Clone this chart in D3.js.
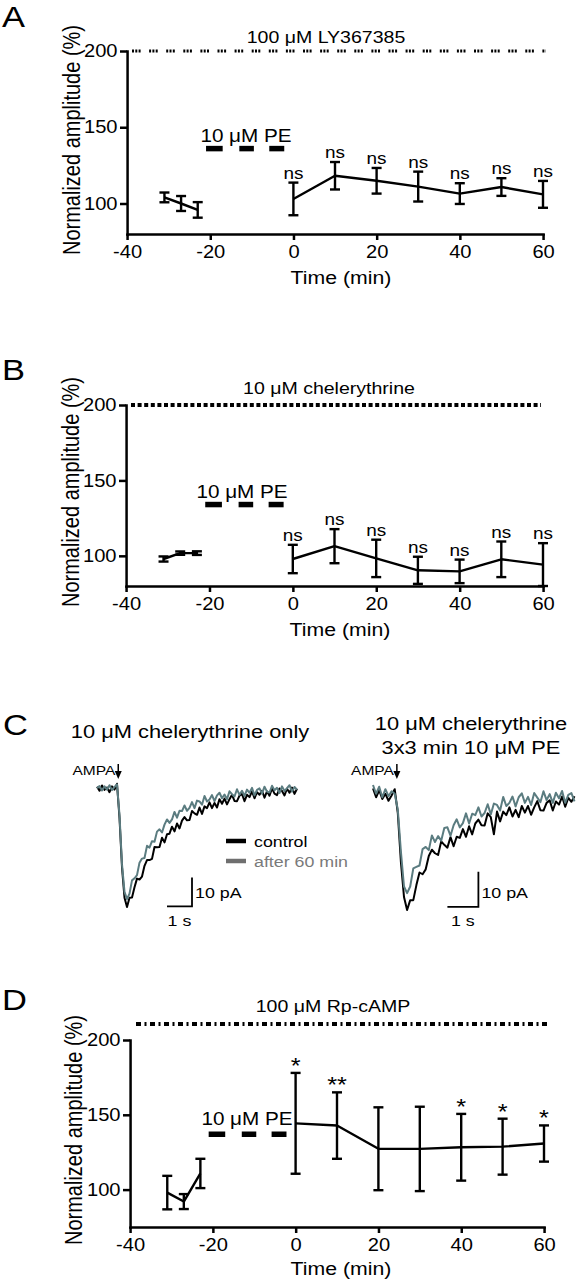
<!DOCTYPE html>
<html><head><meta charset="utf-8">
<script src="https://cdn.jsdelivr.net/npm/d3@7"></script>
<style>body{margin:0;background:#fff} svg{display:block}</style>
</head><body><svg id="fig" width="576" height="1280"></svg>
<script>
// ---------- data ----------
const timePoints = [-31, -27, -23, 0, 10, 20, 30, 40, 50, 60];
const meanA = [104, 100, 95.8, 103, 118.2, 114.9, 111.1, 106.5, 110.8, 106];
const errA  = [3.2, 4.9, 5.1, 10.7, 9, 8.4, 9.8, 6.8, 5.8, 8.8];
const meanB = [97.9, 101.8, 101.8, 97.9, 106.4, 98.3, 90.4, 89.7, 97.7, 94.2];
const errB  = [1.7, 1.1, 1.2, 9.4, 11.3, 12.4, 9, 7.8, 11.8, 14.2];
const meanD = [98, 92, 110.8, 144.3, 142.8, 127.3, 127.2, 128.3, 128.7, 130.8];
const errD  = [11.2, 5, 9.8, 33.7, 22.2, 27.7, 28.2, 22.3, 18.7, 12.1];
const sigA  = ["", "", "", "ns", "ns", "ns", "ns", "ns", "ns", "ns"];
const sigB  = ["", "", "", "ns", "ns", "ns", "ns", "ns", "ns", "ns"];
const sigD  = ["", "", "", "*", "**", "", "", "*", "*", "*"];
const peBars = [[-21, -17], [-13, -9.5], [-5.8, -2.2]];
const xTicks = [-40, -20, 0, 20, 40, 60];
const yTicks = [100, 150, 200];
const drugLabels = ["100 \u03bcM LY367385", "10 \u03bcM chelerythrine", "100 \u03bcM Rp-cAMP"];
const peLabel = "10 \u03bcM PE";

// traces (pA), sampled every 0.1 s
const traceStep = 0.1;
const leftControl = [0.8,-0.6,1.2,-0.3,0.5,-1.1,0.9,-0.2,1.8,
  -10,-27,-37.5,-40.7,
  -37.5,-37.4,-33.9,-30.9,-31.2,-30.2,-26.5,-24.5,-24.5,-24.1,-20.0,-20.1,-20.0,-16.8,-18.4,-15.6,-15.4,-13.0,
  -14.6,-11.9,-13.6,-10.9,-9.7,-10.8,-10.7,-7.6,-8.4,-8.9,-6.4,-8.6,-6.0,-6.6,-4.6,-6.6,-4.8,-6.4,-3.5,-5.1,
  -3.3,-5.3,-3.5,-2.0,-4.1,-4.2,-2.3,-1.7,-4.2,-2.0,-2.8,-0.8,-3.2,-1.1,-2.0,-0.6,-3.0,-0.8,-2.3,0.2,
  -1.6,-2.1,0.2,-0.7,-2.2,0.1,-1.3,0.5,-1.7,0.1];
const leftAfter = [0.3,1.0,-0.5,0.9,-0.2,1.3,-0.4,0.7,1.6,
  -9,-26,-35.5,-38,
  -36.1,-31.5,-30.8,-29.7,-25.4,-24.0,-23.8,-19.6,-20.2,-18.0,-18.2,-14.7,-13.9,-15.0,-12.3,-10.5,-11.7,-10.5,
  -7.9,-9.9,-7.5,-7.6,-5.7,-7.5,-6.5,-4.5,-6.6,-4.0,-4.3,-5.4,-2.4,-4.3,-3.6,-2.1,-4.2,-2.2,-1.3,-3.2,
  -1.9,-3.5,-0.8,-1.8,-2.6,-0.1,-2.0,-0.6,-2.4,-0.2,-1.3,0.4,-2.2,-0.3,0.2,-1.6,0.8,-0.9,-1.2,1.1,
  -0.4,0.4,-1.4,0.9,-0.7,0.3,1.3,-0.9,0.7,-0.2];
const rightControl = [1.0,-1.5,0.5,-2.0,-0.5,-2.5,-1.0,0.8,
  -6,-20,-30,-33.7,
  -30.9,-30.9,-26.6,-23.0,-23.5,-22.1,-18.3,-16.5,-17.5,-18.0,-14.1,-15.1,-15.9,-12.9,-15.5,-12.8,-13.1,-10.6,
  -12.8,-9.8,-12.1,-9.0,-7.9,-9.5,-9.6,-6.1,-7.2,-12.1,-5.6,-8.4,-5.6,-6.6,-4.4,-7.0,-5.1,-7.2,-4.0,-5.9,
  -4.0,-6.5,-4.4,-2.6,-5.2,-5.3,-3.1,-2.4,-5.3,-2.7,-3.6,-1.3,-4.2,-1.7,-2.8,-1.2];
const rightAfter = [2.0,-0.5,1.5,-1.5,0.8,-1.2,0.2,-0.5,
  -5,-17,-27,-28.9,
  -27.0,-21.8,-21.4,-21.0,-16.3,-15.7,-16.6,-12.4,-14.3,-12.6,-13.9,-10.3,-10.1,-12.5,-9.5,-7.8,-10.1,-8.9,
  -6.1,-9.0,-6.2,-6.6,-4.4,-7.0,-6.0,-3.5,-6.4,-3.3,-3.7,-5.3,-1.4,-4.0,-3.1,-1.3,-4.1,-1.5,-0.4,-3.1,
  -1.4,-3.7,-0.3,-1.6,-2.9,0.2,-2.3,-0.6,-3.1,-0.2,-1.8,0.3,-3.1,-0.8,-0.3,-2.7];
const legendLabels = ["control", "after 60 min"];
const scaleBarTime = 1;      // s
const scaleBarCurrent = 10;  // pA

// ---------- layout ----------
const FONT = '"Liberation Sans", Arial, Helvetica, sans-serif';
const SX = 1.15;               // horizontal text stretch of the original figure
const X = v => v / SX;
const svg = d3.select('#fig');
const root = svg.append('g').attr('transform', `scale(${SX},1)`);
const NS = 'non-scaling-stroke';

function txt(x, y, s, size, anchor = 'start', fill = '#000') {
  return root.append('text').attr('x', X(x)).attr('y', y)
    .attr('font-family', FONT).attr('font-size', size)
    .attr('text-anchor', anchor).attr('fill', fill).text(s);
}
function hline(g, x1, x2, y, w, color = '#000', dash = null) {
  const l = g.append('line').attr('x1', x1).attr('x2', x2).attr('y1', y).attr('y2', y)
    .attr('stroke', color).attr('stroke-width', w).attr('vector-effect', NS);
  if (dash) l.attr('stroke-dasharray', dash);
  return l;
}
function styleAxis(sel) {
  sel.attr('font-family', FONT).attr('font-size', 17.5);
  sel.select('.domain').attr('stroke', '#000').attr('stroke-width', 2.5)
    .attr('vector-effect', NS).attr('stroke-linecap', 'square');
  sel.selectAll('.tick line').attr('stroke', '#000').attr('stroke-width', 2.5).attr('vector-effect', NS);
  sel.selectAll('.tick text').attr('fill', '#000');
}
const fmt = d => String(d);   // plain hyphen minus, as in the original

function panel(c) {
  const g = root.append('g');
  const x = d3.scaleLinear().domain([-40, 60]).range([X(c.x0), X(c.x1)]);
  const y = d3.scaleLinear().domain([c.ymin, 200]).range([c.yBottom, c.yTop]);

  g.append('g').attr('transform', `translate(0,${c.yBottom})`)
    .call(d3.axisBottom(x).tickValues(xTicks).tickFormat(fmt).tickSize(6).tickSizeOuter(0).tickPadding(6))
    .call(styleAxis);
  g.append('g').attr('transform', `translate(${X(c.x0)},0)`)
    .call(d3.axisLeft(y).tickValues(yTicks).tickFormat(fmt).tickSize(X(7)).tickSizeOuter(0).tickPadding(X(2.5)))
    .call(styleAxis);

  // drug application line
  hline(g, X(c.lineX0), X(c.lineX1), c.lineY, c.lineW, '#000', c.dash);
  txt(c.titleX, c.titleY, c.title, 17, 'middle');

  // PE bars
  peBars.forEach(b => hline(g, x(b[0]), x(b[1]), y(c.peVal), 5.5));
  txt(c.peX, c.peY, peLabel, 18, 'middle');

  const pts = timePoints.map((t, i) => ({t, m: c.mean[i], e: c.err[i], s: c.sig[i]}));
  const line = d3.line().x(d => x(d.t)).y(d => y(d.m));
  [pts.slice(0, 3), pts.slice(3)].forEach(seg => {
    g.append('path').attr('d', line(seg)).attr('fill', 'none').attr('stroke', '#000')
      .attr('stroke-width', 2.4).attr('vector-effect', NS).attr('stroke-linejoin', 'round');
  });
  const eb = g.selectAll('.eb').data(pts).enter().append('g');
  eb.append('line').attr('x1', d => x(d.t)).attr('x2', d => x(d.t))
    .attr('y1', d => y(d.m - d.e)).attr('y2', d => y(d.m + d.e))
    .attr('stroke', '#000').attr('stroke-width', 2.4).attr('vector-effect', NS);
  [-1, 1].forEach(sgn => {
    eb.append('line').attr('x1', d => x(d.t) - X(5)).attr('x2', d => x(d.t) + X(5))
      .attr('y1', d => y(d.m + sgn * d.e)).attr('y2', d => y(d.m + sgn * d.e))
      .attr('stroke', '#000').attr('stroke-width', 2.4).attr('vector-effect', NS);
  });
  eb.filter(d => d.s).append('text')
    .attr('x', d => x(d.t)).attr('y', d => y(d.m + d.e) + (d.s === 'ns' ? -4 : 0))
    .attr('text-anchor', 'middle').attr('font-family', FONT)
    .attr('font-size', d => d.s === 'ns' ? 16.5 : 22).text(d => d.s);

  // labels
  txt(c.letterX, c.letterY, c.letter, 30);
  root.append('text').attr('transform', `translate(${X(c.ylabX)},${c.ylabY}) rotate(-90)`)
    .attr('text-anchor', 'middle').attr('dy', '0.35em').attr('font-family', FONT)
    .attr('font-size', 20).text('Normalized amplitude (%)');
  txt(c.timeX, c.timeY, 'Time (min)', 18.5, 'middle');
}

panel({letter: 'A', letterX: 2, letterY: 27, x0: 127, x1: 543, yTop: 51, yBottom: 234, ymin: 80,
  lineX0: 132, lineX1: 546, lineY: 51, lineW: 3.2, dash: '2,1.3,2,1.3,2,8.5',
  title: drugLabels[0], titleX: 326, titleY: 43, peVal: 136, peX: 246, peY: 142,
  mean: meanA, err: errA, sig: sigA, ylabX: 72, ylabY: 140, timeX: 341, timeY: 284});
panel({letter: 'B', letterX: 2, letterY: 380, x0: 126, x1: 543, yTop: 405, yBottom: 586, ymin: 80,
  lineX0: 131, lineX1: 541, lineY: 405, lineW: 4, dash: '4,2.6',
  title: drugLabels[1], titleX: 329, titleY: 394, peVal: 134, peX: 242, peY: 498,
  mean: meanB, err: errB, sig: sigB, ylabX: 71, ylabY: 492, timeX: 340, timeY: 636});
panel({letter: 'D', letterX: 2, letterY: 1010, x0: 130, x1: 544, yTop: 1040, yBottom: 1227, ymin: 75,
  lineX0: 136, lineX1: 547, lineY: 1024, lineW: 4, dash: '5,3.5,2,3.5',
  title: drugLabels[2], titleX: 333, titleY: 1012, peVal: 137, peX: 247, peY: 1125,
  mean: meanD, err: errD, sig: sigD, ylabX: 74, ylabY: 1130, timeX: 341, timeY: 1275});

// ---------- panel C: traces ----------
txt(3, 735, 'C', 30);
txt(190, 738, '10 \u03bcM chelerythrine only', 19, 'middle');
txt(471, 730, '10 \u03bcM chelerythrine', 19, 'middle');
txt(471, 754, '3x3 min 10 \u03bcM PE', 19, 'middle');

function tracePanel(c) {
  const g = root.append('g');
  const x = d3.scaleLinear().domain([0, 1]).range([X(c.x0), X(c.x0 + c.pxPerS)]);
  const y = d3.scaleLinear().domain([0, -10]).range([c.y0, c.y0 + c.pxPer10]);
  const line = d3.line().x((d, i) => x(i * traceStep)).y(d => y(d));
  g.append('path').attr('d', line(c.control)).attr('fill', 'none').attr('stroke', '#000')
    .attr('stroke-width', 2).attr('vector-effect', NS).attr('stroke-linejoin', 'round');
  g.append('path').attr('d', line(c.after)).attr('fill', 'none').attr('stroke', '#5b7c80')
    .attr('stroke-width', 2).attr('vector-effect', NS).attr('stroke-linejoin', 'round');
  // AMPA arrow
  const ax = x(c.arrowT);
  g.append('line').attr('x1', ax).attr('x2', ax).attr('y1', 764).attr('y2', 773)
    .attr('stroke', '#000').attr('stroke-width', 1.5).attr('vector-effect', NS);
  g.append('path').attr('d', `M${ax - X(3.5)},771 L${ax + X(3.5)},771 L${ax},779 Z`).attr('fill', '#000');
  root.append('text').attr('x', ax - X(3)).attr('y', 775).attr('text-anchor', 'end')
    .attr('font-family', FONT).attr('font-size', 13.5).text('AMPA');
  // scale bar
  const sbT = c.sbT, sbI = c.sbI;
  g.append('path')
    .attr('d', `M${x(sbT)},${y(sbI)} H${x(sbT + scaleBarTime)} V${y(sbI + scaleBarCurrent)}`)
    .attr('fill', 'none').attr('stroke', '#000').attr('stroke-width', 1.8).attr('vector-effect', NS);
  root.append('text').attr('x', x(sbT + scaleBarTime) + X(3)).attr('y', 898)
    .attr('font-family', FONT).attr('font-size', 15.5).text(scaleBarCurrent + ' pA');
  root.append('text').attr('x', x(sbT + scaleBarTime / 2)).attr('y', 926).attr('text-anchor', 'middle')
    .attr('font-family', FONT).attr('font-size', 15.5).text(scaleBarTime + ' s');
}
tracePanel({x0: 97, pxPerS: 25, y0: 789, pxPer10: 29, control: leftControl, after: leftAfter,
  arrowT: 0.85, sbT: 2.8, sbI: -40.5});
tracePanel({x0: 373, pxPerS: 31, y0: 792, pxPer10: 35, control: rightControl, after: rightAfter,
  arrowT: 0.77, sbT: 2.4, sbI: -32.8});

// legend
const lg = root.append('g');
const legendColors = ['#000', '#6f6f6f'];
const legendText = ['#000', '#7a7a7a'];
legendLabels.forEach((lab, i) => {
  hline(lg, X(226), X(246), 841 + i * 20, 4.5, legendColors[i]);
  txt(254, 847 + i * 20, lab, 15.5, 'start', legendText[i]);
});
</script></body></html>
